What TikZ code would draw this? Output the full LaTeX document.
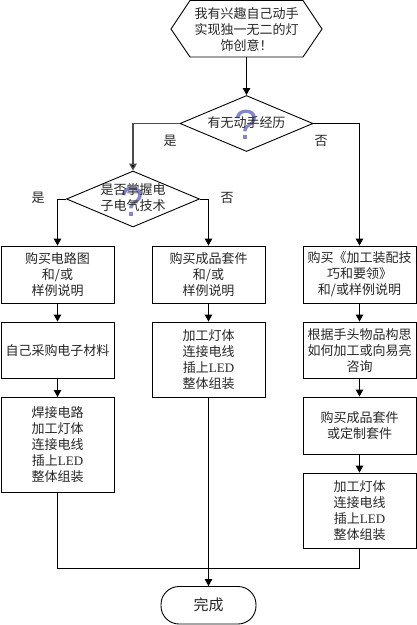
\documentclass[tikz,border=0pt]{standalone}
\usepackage{fontspec}
\setmainfont{Liberation Serif}
\setsansfont{Liberation Sans}
\newfontfamily\cjk{Noto Sans CJK SC}
\usetikzlibrary{arrows.meta,shapes.geometric}
\definecolor{qmark}{HTML}{8585CC}
\definecolor{txt}{HTML}{262626}
\newcommand{\LED}{{\rmfamily LED}}
\tikzset{
  x=1pt,y=-1pt,
  every path/.style={line width=0.9pt},
  lbl/.style={font=\cjk\fontsize{13}{16}\selectfont,text=txt,align=center,inner sep=0pt},
  flowbox/.style={draw,lbl,minimum width=113pt,inner sep=0pt},
  decision/.style={draw,diamond,inner sep=0pt,minimum width=133pt,minimum height=56pt,shape aspect=2.375},
  arrow/.style={-{Triangle[length=7pt,width=7.5pt]}},
  qm/.style={font=\fontsize{42}{42}\selectfont\sffamily,text=qmark,inner sep=0pt},
}
\begin{document}
\begin{tikzpicture}
\useasboundingbox (0,0) rectangle (417,625);
% start hexagon
\draw (171,29) -- (190,0.5) -- (303,0.5) -- (322,29) -- (303,57) -- (190,57) -- cycle;
\node[lbl,minimum width=151pt,minimum height=56.5pt] (start) at (246.5,28.75) {};
\node[lbl] (startt) at (246.5,29.5) {我有兴趣自己动手\\实现独一无二的灯\\饰创意！};
% decisions
\node[decision] (d1) at (246.5,123.5) {};
\node[decision] (d2) at (133,199) {};
\node[qm] (q1) at (246.5,125) {?};
\node[qm] (q2) at (132.5,202) {?};
\node[lbl] (d1t) at (246.5,122.5) {有无动手经历};
\node[lbl] (d2t) at (133,198) {是否掌握电\\子电气技术};
% left column
\node[flowbox,minimum height=57pt] (l1) at (57.5,274.5) {购买电路图\\和/或\\样例说明};
\node[flowbox,minimum height=56.5pt] (l2) at (57.5,350.25) {自己采购电子材料};
\node[flowbox,minimum height=94.5pt] (l3) at (57.5,444.75) {焊接电路\\加工灯体\\连接电线\\插上\LED\\整体组装};
% centre column
\node[flowbox,minimum height=57pt] (c1) at (208.5,274.5) {购买成品套件\\和/或\\样例说明};
\node[flowbox,minimum height=75.5pt] (c2) at (208.5,359.75) {加工灯体\\连接电线\\插上\LED\\整体组装};
% right column
\node[flowbox,minimum height=57pt] (r1) at (359.5,274.5) {购买《加工装配技\\巧和要领》\\和/或样例说明};
\node[flowbox,minimum height=56.5pt] (r2) at (359.5,350.25) {根据手头物品构思\\如何加工或向易亮\\咨询};
\node[flowbox,minimum height=57pt] (r3) at (359.5,425.5) {购买成品套件\\或定制套件};
\node[flowbox,minimum height=75.5pt] (r4) at (359.5,510.75) {加工灯体\\连接电线\\插上\LED\\整体组装};
% end
\node[draw,lbl,font=\cjk\fontsize{15}{18}\selectfont,minimum width=95pt,minimum height=37.5pt,rounded corners=18pt] (end) at (208.5,605.25) {完成};
% branch labels
\node[lbl] (yes1) at (170,141) {是};
\node[lbl] (no1) at (321,141) {否};
\node[lbl] (yes2) at (38,198) {是};
\node[lbl] (no2) at (227,198) {否};
% connectors
\coordinate (merge) at (208.5,568);
\draw[arrow] (start.south) -- (d1.north);
\draw[line width=1.3pt,draw=black!70,-{Triangle[length=7pt,width=7.5pt,fill=black]}] (d1.west) -| (d2.north);
\draw[arrow] (d1.east) -| (r1.north);
\draw[arrow] (d2.west) -| (l1.north);
\draw[arrow] (d2.east) -| (c1.north);
\draw[arrow] (l1) -- (l2);
\draw[arrow] (l2) -- (l3);
\draw[arrow] (c1) -- (c2);
\draw[arrow] (r1) -- (r2);
\draw[arrow] (r2) -- (r3);
\draw[arrow] (r3) -- (r4);
\draw[arrow] (c2.south) -- (end.north);
\draw (l3.south) |- (merge);
\draw (r4.south) |- (merge);
\end{tikzpicture}
\end{document}
